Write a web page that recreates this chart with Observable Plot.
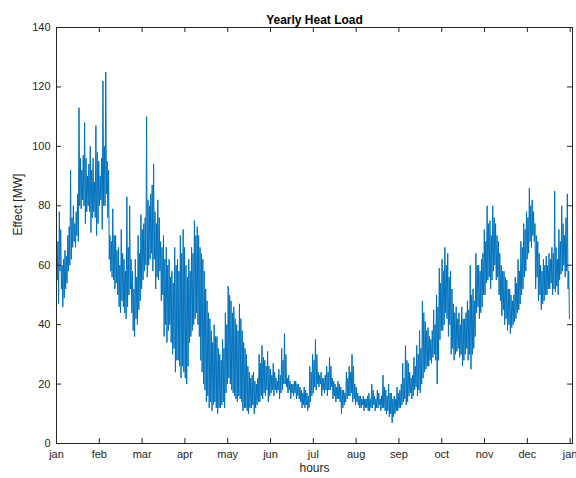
<!DOCTYPE html>
<html>
<head>
<meta charset="utf-8">
<script src="https://cdn.jsdelivr.net/npm/d3@7"></script>
<script src="https://cdn.jsdelivr.net/npm/@observablehq/plot@0.6"></script>
<style>
  html, body { margin: 0; padding: 0; background: #fff; }
  #chart { width: 576px; height: 478px; }
  svg { font-family: "Liberation Sans", Arial, Helvetica, sans-serif; }
</style>
</head>
<body>
<div id="chart"></div>
<script>
// Heat load per day of the year: the daily upper and lower excursion (MW).
const hoursPerDay = 24;
const dailyHigh = [
  66, 68, 78, 72, 60, 62, 65, 63, 70, 73,
  92, 76, 80, 74, 78, 84, 113, 96, 92, 97,
  108, 96, 90, 94, 100, 92, 96, 88, 107, 98,
  95, 90, 96, 122, 100, 125, 95, 92, 70, 68,
  79, 70, 70, 65, 66, 60, 72, 64, 62, 58,
  83, 66, 80, 62, 58, 52, 62, 56, 70, 64,
  77, 72, 74, 76, 110, 82, 80, 84, 87, 94,
  78, 74, 82, 76, 68, 66, 70, 62, 66, 60,
  62, 56, 58, 54, 66, 60, 62, 58, 70, 64,
  72, 66, 60, 56, 62, 58, 66, 64, 75, 70,
  73, 70, 66, 64, 62, 58, 52, 48, 44, 42,
  38, 34, 40, 36, 36, 32, 30, 28, 35, 32,
  44, 40, 53, 50, 48, 44, 46, 42, 40, 38,
  47, 42, 38, 34, 32, 30, 26, 24, 22, 23,
  24, 21, 20, 22, 30, 27, 33, 29, 28, 26,
  31, 26, 25, 23, 27, 24, 22, 21, 25, 23,
  32, 28, 37, 30, 22, 23, 21, 20, 20, 21,
  21, 20, 20, 19, 18, 17, 19, 18, 17, 16,
  26, 24, 30, 28, 35, 30, 24, 23, 24, 22,
  22, 23, 26, 24, 29, 26, 22, 21, 20, 19,
  21, 20, 19, 18, 18, 17, 24, 22, 26, 24,
  30, 26, 20, 19, 17, 16, 16, 15, 16, 15,
  15, 16, 17, 15, 20, 18, 16, 15, 18, 17,
  15, 16, 23, 19, 18, 16, 20, 17, 17, 15,
  16, 15, 19, 17, 18, 20, 27, 22, 33, 28,
  27, 24, 22, 23, 29, 26, 33, 30, 38, 32,
  48, 44, 41, 38, 39, 36, 35, 38, 45, 40,
  50, 46, 59, 54, 62, 58, 66, 60, 64, 56,
  58, 52, 47, 44, 46, 42, 44, 40, 46, 42,
  42, 44, 48, 45, 60, 50, 52, 48, 64, 60,
  60, 58, 62, 64, 72, 68, 80, 74, 75, 70,
  80, 76, 74, 70, 68, 64, 60, 58, 58, 56,
  55, 52, 52, 50, 48, 50, 56, 54, 62, 58,
  68, 66, 74, 72, 78, 76, 86, 80, 82, 78,
  74, 70, 68, 64, 60, 58, 62, 60, 63, 60,
  64, 62, 66, 64, 85, 66, 62, 72, 68, 80,
  74, 70, 76, 84, 58
];
const dailyLow = [
  55, 47, 58, 52, 46, 49, 52, 54, 58, 60,
  62, 66, 68, 66, 70, 68, 80, 79, 82, 80,
  74, 78, 80, 78, 71, 76, 78, 76, 70, 74,
  80, 82, 72, 80, 80, 84, 76, 62, 58, 56,
  55, 52, 54, 50, 46, 44, 48, 46, 44, 42,
  46, 50, 52, 44, 38, 36, 42, 40, 45, 48,
  52, 55, 58, 60, 56, 60, 62, 64, 58, 62,
  52, 56, 55, 58, 48, 50, 36, 40, 34, 38,
  40, 34, 30, 32, 24, 28, 28, 26, 22, 26,
  24, 22, 20, 26, 34, 36, 38, 40, 42, 44,
  40, 36, 28, 24, 20, 18, 14, 16, 12, 14,
  11, 13, 14, 12, 10, 12, 12, 13, 14, 12,
  17, 20, 22, 20, 18, 17, 16, 15, 14, 16,
  15, 14, 11, 12, 12, 11, 10, 12, 12, 13,
  10, 12, 13, 14, 14, 16, 15, 17, 16, 18,
  14, 16, 17, 18, 16, 18, 17, 18, 15, 17,
  18, 20, 20, 19, 17, 18, 15, 17, 16, 17,
  15, 16, 15, 14, 12, 13, 12, 13, 11, 12,
  14, 16, 17, 19, 18, 20, 19, 20, 16, 18,
  17, 18, 16, 18, 18, 19, 15, 16, 14, 15,
  15, 14, 10, 12, 13, 14, 15, 16, 16, 17,
  14, 15, 13, 14, 13, 12, 12, 13, 11, 12,
  12, 11, 11, 12, 12, 13, 11, 12, 12, 13,
  11, 12, 12, 11, 10, 11, 9, 10, 7, 9,
  10, 11, 11, 12, 12, 13, 14, 15, 13, 14,
  16, 17, 15, 16, 18, 19, 16, 18, 17, 20,
  22, 24, 25, 26, 26, 28, 27, 29, 30, 28,
  20, 28, 35, 38, 38, 40, 44, 42, 36, 40,
  30, 32, 28, 30, 31, 32, 29, 30, 26, 28,
  30, 32, 28, 30, 25, 30, 32, 36, 44, 46,
  42, 44, 46, 50, 50, 54, 55, 56, 52, 55,
  58, 60, 55, 56, 50, 48, 43, 45, 40, 42,
  38, 40, 37, 39, 40, 41, 42, 44, 45, 47,
  50, 52, 56, 58, 62, 64, 68, 66, 70, 68,
  52, 56, 48, 50, 45, 47, 48, 50, 50, 52,
  52, 54, 50, 52, 51, 53, 50, 55, 57, 58,
  60, 56, 58, 52, 42
];

// Month tick positions (hours) and their labels
const monthTicks = [0, 730, 1460, 2190, 2920, 3650, 4380, 5110, 5840, 6570, 7300, 8030, 8760];
const monthLabels = ["jan", "feb", "mar", "apr", "may", "jun", "jul", "aug", "sep", "oct", "nov", "dec", "jan"];
const loadTicks = [0, 20, 40, 60, 80, 100, 120, 140];

// Trace the hourly line: upper then lower excursion within each day
const series = [];
dailyHigh.forEach((h, d) => {
  series.push({hour: d * hoursPerDay, load: h});
  series.push({hour: d * hoursPerDay + hoursPerDay / 2, load: dailyLow[d]});
});

const ink = "#262626";
const labelOf = new Map(monthTicks.map((t, i) => [t, monthLabels[i]]));

const chart = Plot.plot({
  width: 576,
  height: 478,
  marginLeft: 56,
  marginRight: 4,
  marginTop: 27,
  marginBottom: 35,
  style: {fontSize: "11px", color: ink, background: "#fff"},
  x: {domain: [0, 8800]},
  y: {domain: [0, 140]},
  marks: [
    Plot.line(series, {x: "hour", y: "load", stroke: "#0072BD", strokeWidth: 1}),
    Plot.frame({stroke: ink, strokeWidth: 1}),
    // inward tick marks on all four sides
    Plot.tickX(monthTicks, {x: d => d, insetTop: 411, stroke: ink}),
    Plot.tickX(monthTicks, {x: d => d, insetBottom: 411, stroke: ink}),
    Plot.tickY(loadTicks, {y: d => d, insetRight: 511, stroke: ink}),
    Plot.tickY(loadTicks, {y: d => d, insetLeft: 511, stroke: ink}),
    Plot.axisX(monthTicks, {tickSize: 0, tickPadding: 7, tickFormat: d => labelOf.get(d), label: null, fill: ink}),
    Plot.axisY(loadTicks, {tickSize: 0, tickPadding: 6, label: null, fill: ink}),
    Plot.text(["hours"], {frameAnchor: "bottom", dy: 28, fontSize: 12, fill: ink}),
    Plot.text(["Effect [MW]"], {frameAnchor: "left", dx: -38, rotate: -90, fontSize: 12, fill: ink}),
    Plot.text(["Yearly Heat Load"], {frameAnchor: "top", dy: -12, fontSize: 12, fontWeight: "bold", fill: "#000"})
  ]
});

document.getElementById("chart").appendChild(chart);
</script>
</body>
</html>
